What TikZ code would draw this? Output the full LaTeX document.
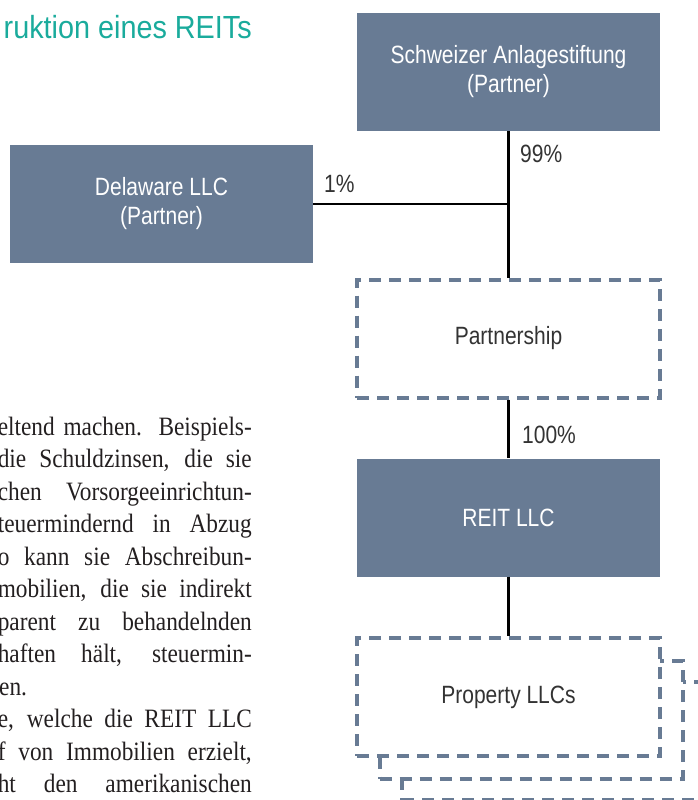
\documentclass[tikz,border=0pt]{standalone}
\usepackage{fontspec}
\setmainfont{Liberation Serif}
\newfontfamily\bodyfont[FakeStretch=0.88]{Liberation Serif}
\newfontfamily\condfont[FakeStretch=0.84]{Liberation Sans}
\newfontfamily\titlefont[FakeStretch=0.9]{Liberation Sans}
\definecolor{boxblue}{HTML}{687B94}
\definecolor{teal}{HTML}{1AAB9C}
\definecolor{txtgray}{HTML}{333333}
\definecolor{bodytxt}{HTML}{231F20}
\tikzset{
  fillbox/.style={fill=boxblue, draw=none, minimum width=303pt, minimum height=118pt,
    inner sep=0pt, align=center, text=white, font=\condfont\fontsize{25}{29}\selectfont},
  dashbox/.style={draw=boxblue, line width=4pt, dash pattern=on 12pt off 8pt,
    minimum width=303pt, minimum height=118pt, inner sep=0pt, align=center,
    text=txtgray, font=\condfont\fontsize{25}{29}\selectfont},
  conn/.style={draw=black, line width=2.5pt},
  pct/.style={anchor=base west, inner sep=0pt, text=txtgray, font=\condfont\fontsize{25}{29}\selectfont},
  bodyline/.style={anchor=base east, inner sep=0pt, text=bodytxt, font=\bodyfont\fontsize{26.5}{32}\selectfont},
}
\newcommand{\jline}[1]{\makebox[254pt][s]{#1}}
\begin{document}
\begin{tikzpicture}[x=1pt,y=-1pt]
\useasboundingbox (0,0) rectangle (698,800);
% title
\node[anchor=base east, inner sep=0pt, text=teal, font=\titlefont\fontsize{32}{36}\selectfont] (title) at (252,39) {ruktion eines REITs};
% body text
\node[bodyline] (b1) at (252,435) {\jline{eltend machen. Beispiels-}};
\node[bodyline] (b2) at (252,467.5) {\jline{die Schuldzinsen, die sie}};
\node[bodyline] (b3) at (252,500) {\jline{chen Vorsorgeeinrichtun-}};
\node[bodyline] (b4) at (252,532.5) {\jline{teuermindernd in Abzug}};
\node[bodyline] (b5) at (252,565) {\jline{o kann sie Abschreibun-}};
\node[bodyline] (b6) at (252,597.5) {\jline{mobilien, die sie indirekt}};
\node[bodyline] (b7) at (252,630) {\jline{parent zu behandelnden}};
\node[bodyline] (b8) at (252,662.5) {\jline{haften hält, steuermin-}};
\node[bodyline, anchor=base west] (b9) at (-1,695) {en.};
\node[bodyline] (b10) at (252,727.5) {\jline{e, welche die REIT LLC}};
\node[bodyline] (b11) at (252,760) {\jline{f von Immobilien erzielt,}};
\node[bodyline] (b12) at (252,792.5) {\jline{ht den amerikanischen}};
% boxes
\node[fillbox] (sa) at (508.5,72) {Schweizer Anlagestiftung\\(Partner)};
\node[fillbox] (dl) at (161.5,204) {Delaware LLC\\(Partner)};
\node[dashbox] (pn) at (508.5,338.5) {Partnership};
\node[fillbox] (reit) at (508.5,517.5) {REIT LLC};
\node[dashbox, fill=white] (pl3) at (553.5,741) {};
\node[dashbox, fill=white] (pl2) at (531,719.5) {};
\node[dashbox, fill=white] (pl) at (508.5,697) {Property LLCs};
% connectors
\coordinate (junc) at (dl.east -| sa.south);
\draw[conn] (sa.south) -- (pn.north);
\draw[conn] (dl.east) -- (junc);
\draw[conn] (pn.south) -- (reit.north);
\draw[conn] (reit.south) -- (pl.north);
% percentages
\node[pct] (p99) at (520,162) {99\%};
\node[pct] (p1) at (324,192) {1\%};
\node[pct] (p100) at (522,443) {100\%};
\end{tikzpicture}
\end{document}
